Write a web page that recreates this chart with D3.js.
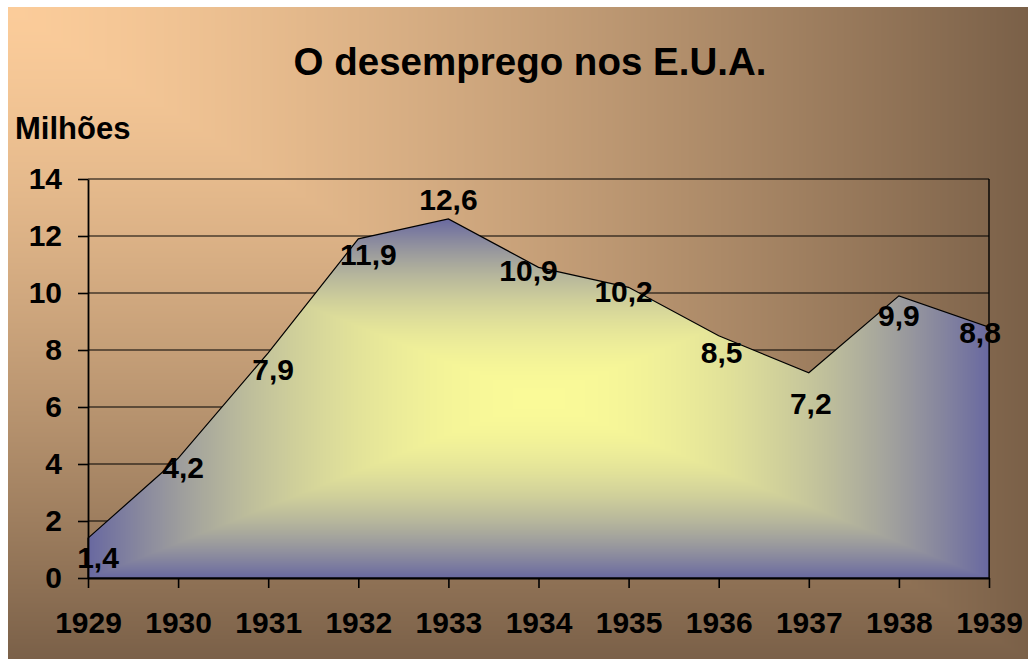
<!DOCTYPE html>
<html>
<head>
<meta charset="utf-8">
<title>O desemprego nos E.U.A.</title>
<script src="https://d3js.org/d3.v7.min.js"></script>
<style>
  html, body { margin: 0; padding: 0; background: #fff; }
  svg { display: block; }
  text { font-family: "Liberation Sans", Arial, sans-serif; font-weight: bold; fill: #000; }
</style>
</head>
<body>
<svg id="chart" width="1028" height="659"></svg>
<script>
// data (millions of unemployed)
var years = ["1929", "1930", "1931", "1932", "1933", "1934", "1935", "1936", "1937", "1938", "1939"];
var unemployed = [1.4, 4.2, 7.9, 11.9, 12.6, 10.9, 10.2, 8.5, 7.2, 9.9, 8.8];
var yTicks = [0, 2, 4, 6, 8, 10, 12, 14];

// where each value label sits relative to its point (labels were hand moved)
var labelNudge = [[10, 19], [5, 9], [5, 16], [10, 15], [0, -20], [-10, 3],
                  [-5, 4], [3, 16], [2, 30], [0, 19], [-9, 5]];

var svg = d3.select("#chart");
var pt = d3.formatLocale({decimal: ",", thousands: ".", grouping: [3], currency: ["", ""]}).format(".1f");

var plotL = 88, plotR = 989, plotT = 179, plotB = 578;

var x = d3.scalePoint().domain(years).range([plotL, plotR]);
var y = d3.scaleLinear().domain([0, 14]).range([plotB, plotT]);

// draws a "box" gradient into a canvas and gives back a data url
function boxGradient(w, h, tFn, c0, c1) {
  w = Math.round(w); h = Math.round(h);
  var c = document.createElement("canvas");
  c.width = w; c.height = h;
  var ctx = c.getContext("2d");
  var img = ctx.createImageData(w, h);
  for (var j = 0; j < h; j++) {
    for (var i = 0; i < w; i++) {
      var t = Math.max(0, Math.min(1, tFn(i, j)));
      var k = (j * w + i) * 4;
      img.data[k] = c0[0] + (c1[0] - c0[0]) * t;
      img.data[k + 1] = c0[1] + (c1[1] - c0[1]) * t;
      img.data[k + 2] = c0[2] + (c1[2] - c0[2]) * t;
      img.data[k + 3] = 255;
    }
  }
  ctx.putImageData(img, 0, 0);
  return c.toDataURL();
}

// chart background: light from the top-left corner
var bgW = 1020, bgH = 652;
svg.append("image")
  .attr("x", 8).attr("y", 7)
  .attr("width", bgW).attr("height", bgH)
  .attr("preserveAspectRatio", "none")
  .attr("href", boxGradient(bgW, bgH, function(i, j) {
    var t = Math.max(i / bgW, j / bgH);
    return Math.pow(t, 1.35);
  }, [251, 204, 154], [122, 96, 72]));

// gridlines behind the area
svg.append("g")
  .selectAll("line")
  .data(yTicks)
  .join("line")
    .attr("x1", plotL).attr("x2", plotR)
    .attr("y1", function(d) { return y(d); })
    .attr("y2", function(d) { return y(d); })
    .attr("stroke", "#000")
    .attr("stroke-width", 1.2);

svg.append("line")
  .attr("x1", plotR).attr("x2", plotR)
  .attr("y1", y(14)).attr("y2", y(0))
  .attr("stroke", "#000")
  .attr("stroke-width", 1.4);

// area with the yellow centre fill
var area = d3.area()
  .x(function(d, i) { return x(years[i]); })
  .y0(y(0))
  .y1(function(d) { return y(d); });

svg.append("clipPath").attr("id", "areaClip")
  .append("path").attr("d", area(unemployed));

var aTop = Math.floor(y(d3.max(unemployed)));
var aW = Math.round(plotR - plotL), aH = Math.round(plotB - aTop);
svg.append("image")
  .attr("x", plotL).attr("y", aTop)
  .attr("width", aW).attr("height", aH)
  .attr("preserveAspectRatio", "none")
  .attr("clip-path", "url(#areaClip)")
  .attr("href", boxGradient(aW, aH, function(i, j) {
    var t = Math.max(Math.abs(i - aW / 2) / (aW / 2), Math.abs(j - aH / 2) / (aH / 2));
    return Math.pow(t, 2);
  }, [250, 250, 152], [104, 104, 160]));

svg.append("path")
  .attr("d", area(unemployed))
  .attr("fill", "none")
  .attr("stroke", "#000")
  .attr("stroke-width", 1.2)
  .attr("stroke-linejoin", "miter");

// axes
var yAxis = svg.append("g")
  .attr("transform", "translate(" + plotL + ",0)")
  .call(d3.axisLeft(y).tickValues(yTicks).tickSize(10).tickPadding(16).tickSizeOuter(0));

var xAxis = svg.append("g")
  .attr("transform", "translate(0," + plotB + ")")
  .call(d3.axisBottom(x).tickSize(10).tickPadding(24).tickSizeOuter(0));

[yAxis, xAxis].forEach(function(g) {
  g.attr("font-family", null).attr("font-size", null);
  g.select(".domain").attr("stroke", "#000").attr("stroke-width", 1.8);
  g.selectAll(".tick line").attr("stroke", "#000").attr("stroke-width", 1.6);
  g.selectAll(".tick text").style("font-size", "30px").attr("fill", "#000");
});

// value labels
svg.append("g")
  .selectAll("text")
  .data(unemployed)
  .join("text")
    .attr("x", function(d, i) { return x(years[i]) + labelNudge[i][0]; })
    .attr("y", function(d, i) { return y(d) + labelNudge[i][1]; })
    .attr("dy", "0.36em")
    .attr("text-anchor", "middle")
    .style("font-size", "30px")
    .text(function(d) { return pt(d); });

// titles
svg.append("text")
  .attr("x", 530).attr("y", 75)
  .attr("text-anchor", "middle")
  .style("font-size", "38.5px")
  .text("O desemprego nos E.U.A.");

svg.append("text")
  .attr("x", 15).attr("y", 139)
  .style("font-size", "31px")
  .text("Milhões");
</script>
</body>
</html>
